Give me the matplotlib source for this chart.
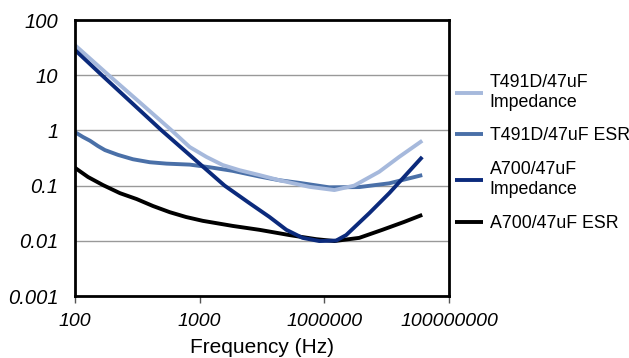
import matplotlib
matplotlib.use('Agg')
import matplotlib.pyplot as plt

# frequency (Hz) and impedance / ESR (ohm)
f_t491_z = [100, 347, 1175, 3550, 6920, 12900, 23400, 43700, 91200, 190500, 575400, 1.45e6, 3.02e6, 7.59e6, 1.58e7, 3.72e7]
z_t491_z = [35, 10, 3.0, 1.0, 0.50, 0.33, 0.236, 0.19, 0.155, 0.125, 0.095, 0.083, 0.10, 0.178, 0.33, 0.65]

f_t491_esr = [100, 134, 174, 234, 302, 490, 851, 1585, 2950, 6920, 14450, 33900, 91200, 190500, 398000, 1.2e6, 3.63e6, 1.1e7, 3.72e7]
z_t491_esr = [0.93, 0.76, 0.65, 0.52, 0.44, 0.36, 0.30, 0.265, 0.25, 0.24, 0.215, 0.185, 0.146, 0.125, 0.112, 0.093, 0.094, 0.11, 0.155]

f_a700_z = [100, 270, 2450, 25100, 63100, 132000, 246000, 447000, 832000, 1.55e6, 2.24e6, 5.25e6, 1.1e7, 3.72e7]
z_a700_z = [28.6, 10, 1.0, 0.10, 0.048, 0.027, 0.0158, 0.0113, 0.0099, 0.0101, 0.0127, 0.0316, 0.073, 0.33]

f_a700_esr = [100, 162, 282, 525, 977, 1780, 3310, 6030, 11200, 33900, 91200, 275400, 741300, 1.45e6, 3.63e6, 8.51e6, 1.91e7, 3.72e7]
z_a700_esr = [0.21, 0.143, 0.102, 0.073, 0.057, 0.0427, 0.033, 0.027, 0.023, 0.0186, 0.0158, 0.0127, 0.0107, 0.0099, 0.0113, 0.0158, 0.022, 0.0295]

labels = ['T491D/47uF\nImpedance', 'T491D/47uF ESR', 'A700/47uF\nImpedance', 'A700/47uF ESR']
colors = ['#a6b9dc', '#4a70a8', '#0b2a7c', '#000000']
zorders = [4, 3, 5, 2]

xticks = [1e2, 1e4, 1e6, 1e8]
xticklabels = ['100', '1000', '1000000', '100000000']
yticks = [0.001, 0.01, 0.1, 1, 10, 100]
yticklabels = ['0.001', '0.01', '0.1', '1', '10', '100']

plt.rcParams['font.family'] = ['Liberation Sans', 'DejaVu Sans']

fig = plt.figure(figsize=(6.29, 3.58), dpi=100)
ax = fig.add_axes([75/629, 1 - 296/358, (449 - 75)/629, (296 - 20)/358])

series = [(f_t491_z, z_t491_z), (f_t491_esr, z_t491_esr), (f_a700_z, z_a700_z), (f_a700_esr, z_a700_esr)]
for (f, z), lab, c, zo in zip(series, labels, colors, zorders):
    ax.plot(f, z, color=c, lw=2.8, label=lab, zorder=zo,
            solid_joinstyle='round', solid_capstyle='butt')

ax.set_xscale('log')
ax.set_yscale('log')
ax.set_xlim(1e2, 1e8)
ax.set_ylim(0.001, 100)
ax.set_xticks(xticks)
ax.set_xticklabels(xticklabels, fontstyle='italic', fontsize=14)
ax.set_yticks(yticks)
ax.set_yticklabels(yticklabels, fontstyle='italic', fontsize=14.5)
ax.minorticks_off()
ax.tick_params(axis='x', length=5, width=1, color='#555555', pad=7)
ax.tick_params(axis='y', length=0, pad=12)
for y in [0.01, 0.1, 1, 10]:
    ax.axhline(y, color='#999999', lw=1, zorder=0)
for s in ax.spines.values():
    s.set_linewidth(2)
    s.set_color('black')
    s.set_zorder(6)
ax.set_xlabel('Frequency (Hz)', fontsize=15, labelpad=6)

handles, labs = ax.get_legend_handles_labels()
ax.legend(handles, labs, loc='upper left', bbox_to_anchor=(455/629, 1 - 74/358),
          bbox_transform=fig.transFigure, frameon=False, fontsize=12.8,
          handlelength=1.55, handletextpad=0.4, labelspacing=0.95,
          borderpad=0, borderaxespad=0)

plt.savefig('out.png', dpi=100)
